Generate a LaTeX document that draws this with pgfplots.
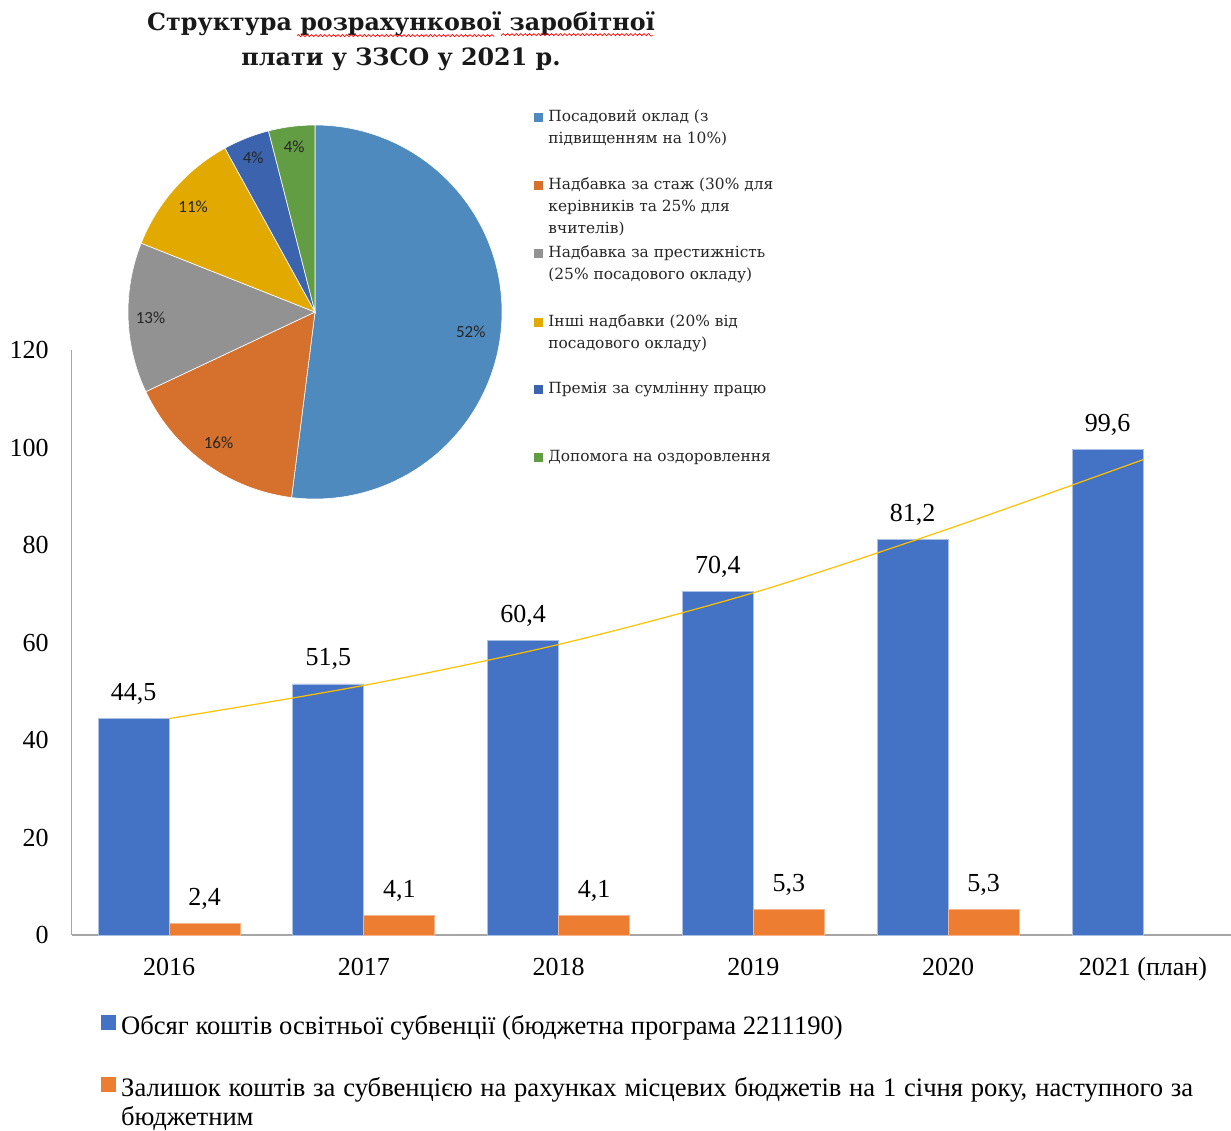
\documentclass[border=0pt]{standalone}
\usepackage{fontspec}
\setmainfont{Liberation Serif}
\newfontfamily\pieserif{DejaVu Serif}
\newfontfamily\piesans{Carlito}
\usepackage{pgfplots}
\pgfplotsset{compat=1.18}
\usetikzlibrary{decorations.pathmorphing}

\definecolor{barblue}{HTML}{4472C4}
\definecolor{barorange}{HTML}{ED7D31}
\definecolor{trend}{HTML}{FFC000}
\definecolor{axgray}{HTML}{A6A6A6}
\definecolor{pieA}{HTML}{4F8ABE}
\definecolor{pieB}{HTML}{D5702D}
\definecolor{pieC}{HTML}{929292}
\definecolor{pieD}{HTML}{E2AA00}
\definecolor{pieE}{HTML}{3C64AE}
\definecolor{pieF}{HTML}{629D43}

\begin{document}
\begin{tikzpicture}
\useasboundingbox (0,0) rectangle (615.5pt,-565pt);
\begin{axis}[
  at={(35.8pt,-467.5pt)}, anchor=south west,
  scale only axis, width=584.4pt, height=292.5pt,
  xmin=-0.5, xmax=5.5, ymin=0, ymax=120,
  axis x line*=bottom, axis y line*=left,
  axis line style={axgray, line width=0.75pt},
  xtick={0,...,5}, xticklabels={2016,2017,2018,2019,2020,2021 (план)},
  ytick={0,20,...,120},
  major tick length=0pt,
  tick label style={font=\fontsize{13}{15}\selectfont},
  xticklabel style={anchor=base, yshift=-20pt},
  yticklabel style={anchor=east, xshift=-8pt},
  /pgf/number format/assume math mode=true,
  ybar, bar width=35.5pt,
  nodes near coords style={font=\fontsize{13}{15}\selectfont, anchor=base, yshift=9pt,
    /pgf/number format/.cd, fixed, fixed zerofill, precision=1, use comma, assume math mode=true},
  legend cell align=left,
  legend style={at={(axis description cs:0.02515,-0.1365)}, anchor=north west,
    draw=none, fill=none, inner sep=0pt, row sep=19.5pt, column sep=2.5pt,
    font=\fontsize{13.3}{14.5}\selectfont, nodes={inner sep=0pt}},
  clip=false,
]
\addplot[fill=barblue, draw={rgb,255:red,170;green,192;blue,228}, line width=0.4pt,
  bar shift=-17.75pt, nodes near coords,
  legend image code/.code={\fill[barblue] (0pt,-1.5pt) rectangle (7pt,5.5pt);}]
  coordinates {(0,44.5) (1,51.5) (2,60.4) (3,70.4) (4,81.2) (5,99.6)};
\addlegendentry{Обсяг коштів освітньої субвенції (бюджетна програма 2211190)}
\addplot[fill=barorange, draw={rgb,255:red,245;green,180;blue,140}, line width=0.4pt,
  bar shift=17.75pt, nodes near coords,
  legend image code/.code={\fill[barorange] (0pt,-1.5pt) rectangle (7pt,5.5pt);}]
  coordinates {(0,2.4) (1,4.1) (2,4.1) (3,5.3) (4,5.3)};
\addlegendentry{\parbox[t]{536pt}{Залишок коштів за субвенцією на рахунках місцевих бюджетів на 1 січня року, наступного за\linebreak бюджетним}}
% trend line
\addplot[smooth, trend, line width=0.6pt, forget plot]
  coordinates {(0,44.4) (1,51.2) (2,59.6) (3,70.2) (4,83.3) (5,97.5)};
\end{axis}

% pie chart
\begin{scope}[shift={(157.5pt,-156pt)}]
\def\R{93.5pt}
\xdef\pa{90}
\foreach \v/\c/\la/\lr in {52/pieA/-7.3/0.84, 16/pieB/-126.4/0.87, 13/pieC/-178/0.88, 11/pieD/-220.7/0.86, 4/pieE/-248.2/0.89, 4/pieF/-262.8/0.89} {
  \pgfmathsetmacro\pb{\pa-3.6*\v}
  \fill[\c, draw=white, line width=0.3pt] (0,0) -- (\pa:\R) arc[start angle=\pa, end angle=\pb, radius=\R] -- cycle;
  \node[font=\piesans\fontsize{8.5}{10}\selectfont, text=black!85] at (\la:\lr*\R) {\v\%};
  \xdef\pa{\pb}
}
\end{scope}

% pie legend
\begin{scope}[every node/.style={font=\pieserif\fontsize{7.7}{11}\selectfont, anchor=base west, inner sep=0pt, text=black!85}]
\foreach \c/\y/\t in {
  pieA/-60.75/{Посадовий оклад (з\\підвищенням на 10\%)},
  pieB/-94.75/{Надбавка за стаж (30\% для\\керівників та 25\% для\\вчителів)},
  pieC/-128.75/{Надбавка за престижність\\(25\% посадового окладу)},
  pieD/-163.25/{Інші надбавки (20\% від\\посадового окладу)},
  pieE/-196.75/{Премія за сумлінну працю},
  pieF/-230.75/{Допомога на оздоровлення}} {
  \fill[\c] (267pt,\y pt) rectangle (271.5pt,\y pt+4.5pt);
  \node at (274pt,\y pt) {\parbox[t]{160pt}{\raggedright\t}};
}
\end{scope}

% pie title
\node[font=\pieserif\bfseries\fontsize{11.9}{17.5}\selectfont, align=center, text=black!90] at (200.5pt,-20.5pt)
  {Структура розрахункової заробітної\\плати у ЗЗСО у 2021 р.};
\draw[red, line width=0.35pt, decorate, decoration={snake, amplitude=0.5pt, segment length=2.2pt}]
  (148.5pt,-17.8pt) -- (247pt,-17.8pt) (250.5pt,-17.8pt) -- (326.5pt,-17.8pt);
\end{tikzpicture}
\end{document}
